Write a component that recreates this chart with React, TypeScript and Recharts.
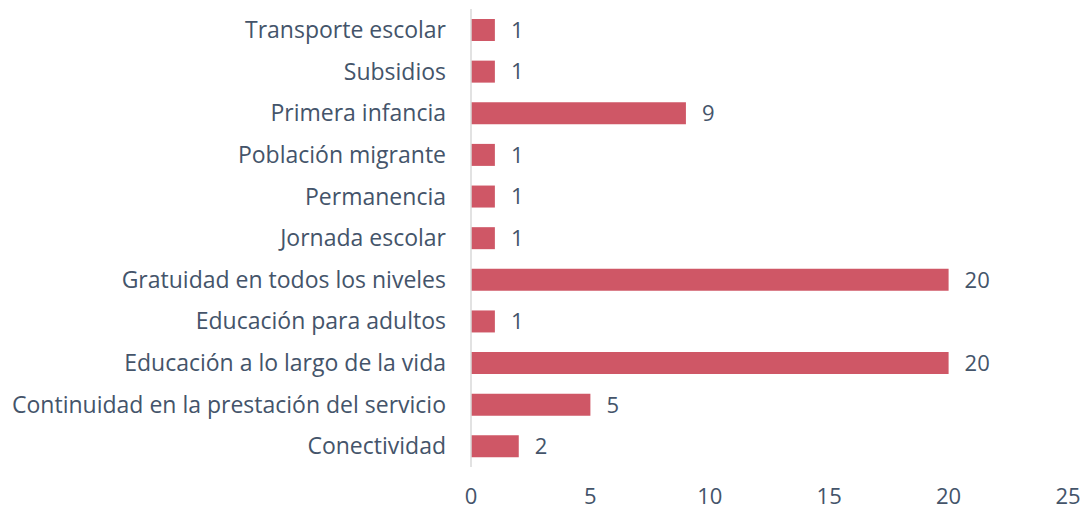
import { BarChart, Bar, XAxis, YAxis, LabelList } from "recharts";

const categories = [
  "Transporte escolar",
  "Subsidios",
  "Primera infancia",
  "Población migrante",
  "Permanencia",
  "Jornada escolar",
  "Gratuidad en todos los niveles",
  "Educación para adultos",
  "Educación a lo largo de la vida",
  "Continuidad en la prestación del servicio",
  "Conectividad",
];
const values = [1, 1, 9, 1, 1, 1, 20, 1, 20, 5, 2];
const xTicks = [0, 5, 10, 15, 20, 25];

const data = categories.map((name, i) => ({ name, value: values[i] }));

const textColor = "#44546A";
const font = "'Open Sans', Lato, sans-serif";

export default function App() {
  return (
    <div style={{ position: "absolute", left: 0, top: 0, width: 1083, height: 512, background: "#fff" }}>
      <BarChart
        width={1083}
        height={512}
        data={data}
        layout="vertical"
        barCategoryGap="24%"
        margin={{ top: 9, right: 15, bottom: 5, left: 0 }}
        style={{ overflow: "visible" }}
      >
        <XAxis
          type="number"
          domain={[0, 25]}
          ticks={xTicks}
          axisLine={false}
          tickLine={false}
          tickSize={0}
          tickMargin={21}
          height={40}
          tick={{ fill: textColor, fontSize: 22, fontFamily: font }}
        />
        <YAxis
          type="category"
          dataKey="name"
          width={471}
          axisLine={{ stroke: "#D9D9D9", strokeWidth: 1.5 }}
          tickLine={false}
          tickSize={0}
          tickMargin={25}
          interval={0}
          tick={{ fill: textColor, fontSize: 23, fontFamily: font }}
        />
        <Bar dataKey="value" fill="#CF5766" isAnimationActive={false}>
          <LabelList
            dataKey="value"
            position="right"
            offset={16}
            fill={textColor}
            fontSize={22}
            fontFamily={font}
          />
        </Bar>
      </BarChart>
    </div>
  );
}
